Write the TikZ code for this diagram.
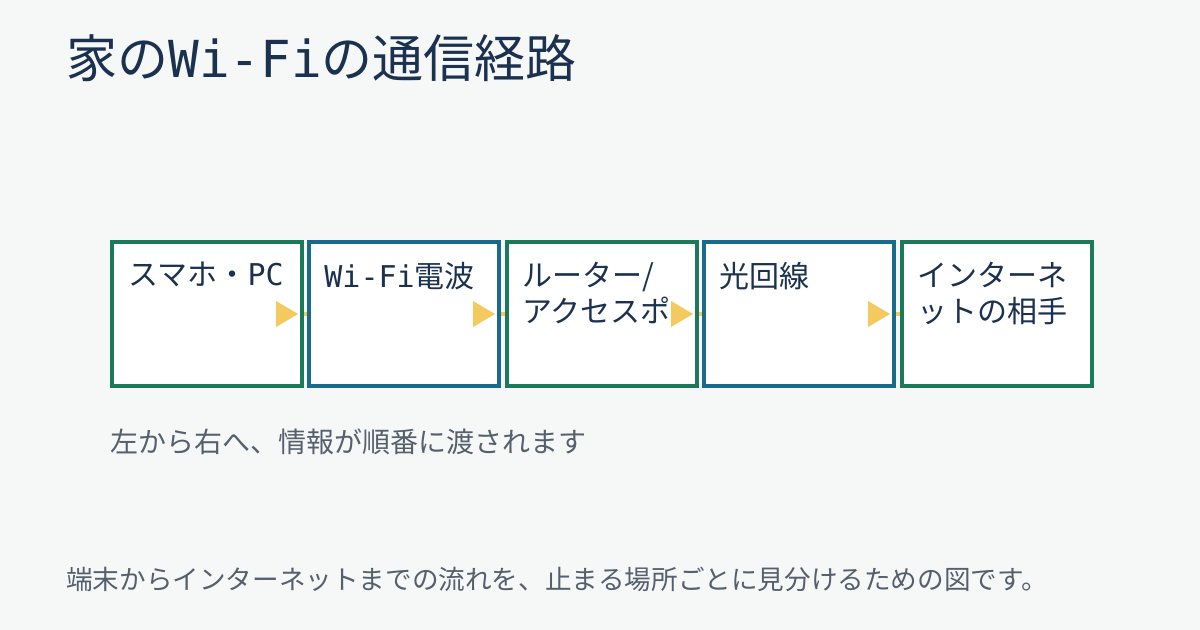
\documentclass[tikz,border=0pt]{standalone}
\usepackage{fontspec}
\setmainfont{Noto Sans CJK JP}
\newfontfamily\monof{DejaVu Sans Mono}
\usetikzlibrary{arrows.meta}
\definecolor{bg}{HTML}{F6F8F8}
\definecolor{ink}{HTML}{1B3150}
\definecolor{gr}{HTML}{1C7A5A}
\definecolor{bl}{HTML}{1A6A8C}
\definecolor{yl}{HTML}{F4C95D}
\definecolor{mut}{HTML}{56606C}
\begin{document}
\begin{tikzpicture}[x=0.5pt,y=-0.5pt,
  box/.style={draw,line width=2pt,fill=white,minimum width=95pt,minimum height=72pt,anchor=north west,inner sep=0},
  lbl/.style={anchor=north west,align=left,text=ink,font=\fontsize{15pt}{18pt}\selectfont,inner sep=0},
  con/.style={yl,line width=2pt}]
\fill[bg] (0,0) rectangle (1200,630);
\useasboundingbox (0,0) rectangle (1200,630);
\node[anchor=base west,text=ink,inner sep=0,font=\fontsize{25.5pt}{28pt}\selectfont] (title) at (66,78) {家の{\monof Wi-Fi}の通信経路};
\node[box,draw=gr] (b1) at (110,240) {};
\node[box,draw=bl] (b2) at (307,240) {};
\node[box,draw=gr] (b3) at (505,240) {};
\node[box,draw=bl] (b4) at (702,240) {};
\node[box,draw=gr] (b5) at (900,240) {};
\node[lbl] (t1) at (128,262) {スマホ・{\monof PC}};
\node[lbl] (t2) at (324,262) {{\monof Wi-Fi}電波};
\node[lbl] (t3) at (522,262) {ルーター/\\アクセスポ};
\node[lbl] (t4) at (719,262) {光回線};
\node[lbl] (t5) at (917,262) {インターネ\\ットの相手};
\foreach \a/\b in {b1/b2,b2/b3,b3/b4,b4/b5}{
  \draw[con] (\a.east) -- (\b.west);
  \fill[yl] ([xshift=-14pt]\a.east) -- ([xshift=-3pt]\a.east) -- ([xshift=-14pt,yshift=6.5pt]\a.east) -- cycle;
  \fill[yl] ([xshift=-14pt]\a.east) -- ([xshift=-3pt]\a.east) -- ([xshift=-14pt,yshift=-6.5pt]\a.east) -- cycle;
}
\node[anchor=base west,text=mut,inner sep=0,font=\fontsize{14pt}{16pt}\selectfont] (cap) at (110,453) {左から右へ、情報が順番に渡されます};
\node[anchor=base west,text=mut,inner sep=0,font=\fontsize{13.3pt}{15pt}\selectfont] (foot) at (66,589) {端末からインターネットまでの流れを、止まる場所ごとに見分けるための図です。};
\end{tikzpicture}
\end{document}
